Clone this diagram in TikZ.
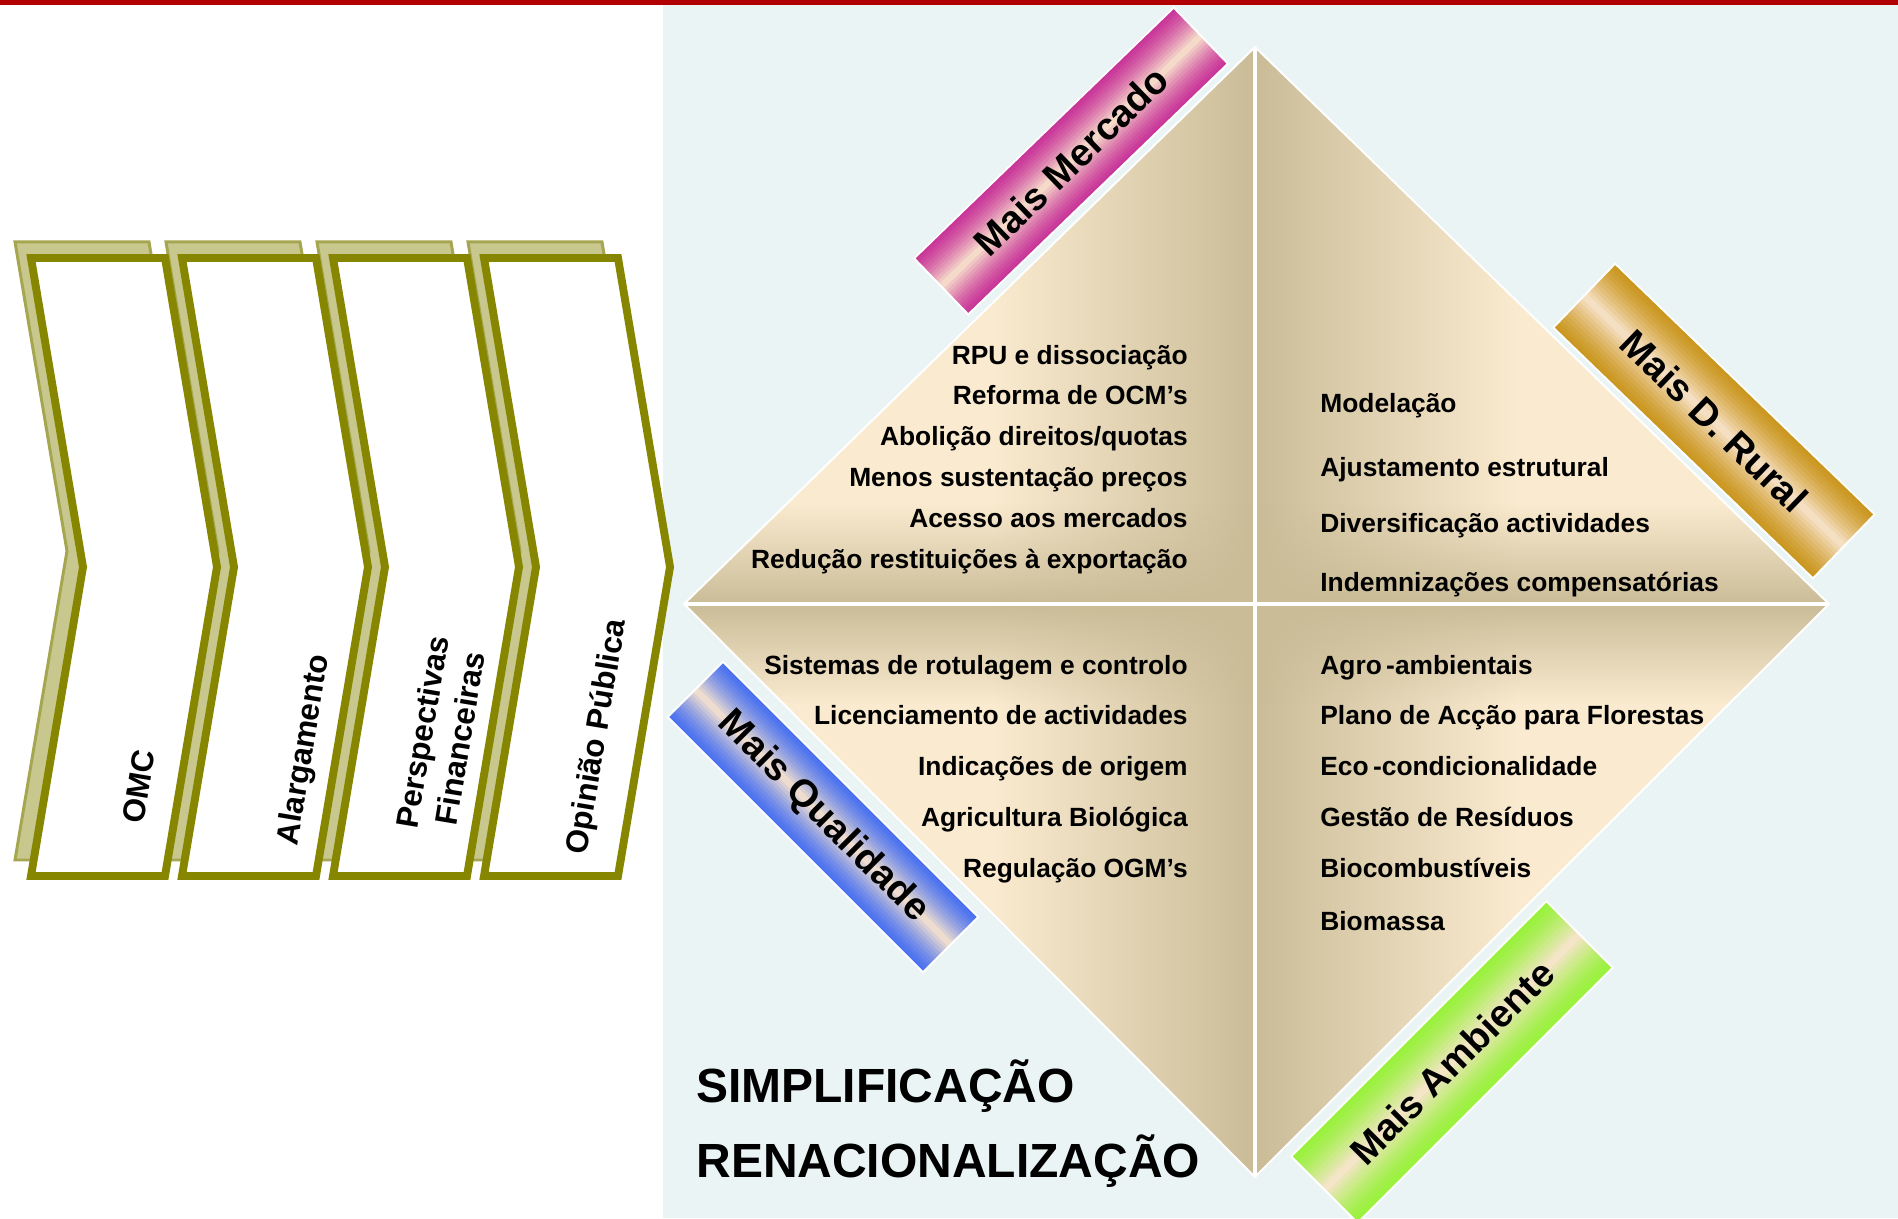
\documentclass[tikz,border=0pt]{standalone}
\usepackage{fontspec}
\setmainfont{Liberation Sans}
\usetikzlibrary{positioning, fadings}

\definecolor{redbar}{RGB}{178,0,0}
\definecolor{paneblue}{RGB}{235,244,245}
\definecolor{cream}{RGB}{250,235,208}
\definecolor{tan}{RGB}{203,188,152}
\definecolor{chevline}{RGB}{134,134,0}
\definecolor{shadowfill}{RGB}{200,200,142}
\definecolor{shadowline}{RGB}{166,166,80}
\definecolor{glow}{RGB}{248,228,205}
\definecolor{mercado}{RGB}{200,52,152}
\definecolor{rural}{RGB}{202,150,30}
\definecolor{qualidade}{RGB}{72,112,240}
\definecolor{ambiente}{RGB}{152,242,58}

\tikzfading[name=fadeup, top color=transparent!100, bottom color=transparent!0]
\tikzfading[name=fadedown, top color=transparent!0, bottom color=transparent!100]
\tikzfading[name=faderight, left color=transparent!100, right color=transparent!0]
\tikzfading[name=fadeleft, left color=transparent!0, right color=transparent!100]

% glowing stripe fill of a label bar: #1 colour, #2 bar height
\newcommand{\glowbar}[2]{%
  \foreach \i in {0,...,23}{
    \pgfmathsetmacro{\ya}{-#2/2+\i*#2/24}
    \pgfmathsetmacro{\yb}{-#2/2+(\i+1)*#2/24+0.6}
    \pgfmathsetmacro{\mix}{100*(1-abs(\i+0.5-12)/12)^1.4}
    \fill[glow!\mix!#1] (-180.5,\ya) rectangle (180.5,\yb);
  }}

\begin{document}
\begin{tikzpicture}[
        x=0.2mm, y=0.2mm,
        listtxt/.style={font=\fontsize{15}{18}\selectfont\bfseries, inner sep=0pt},
        bartxt/.style={font=\fontsize{21.8}{26}\selectfont\bfseries},
        labelbar/.style={draw=white, line width=1.1pt, minimum width=72.2mm,
                         minimum height=#1, inner sep=0pt, transform shape},
        chevtxt/.style={font=\fontsize{17.9}{21.8}\selectfont\bfseries, rotate=80.5,
                        align=center, inner sep=0pt},
        chevron/.style={draw=chevline, fill=white, line width=4.5pt},
        chevshadow/.style={draw=shadowline, fill=shadowfill, line width=1.7pt},
        bigtxt/.style={font=\fontsize{27.3}{32}\selectfont\bfseries, inner sep=0pt}]

        \useasboundingbox (0,0) rectangle (1898,1218);
        \fill[paneblue] (663,0) rectangle (1898,1213);
        \fill[redbar] (0,1213) rectangle (1898,1218);

        % chevrons
        \begin{scope}[shift={(-16,16)}]
        \draw[chevshadow] (31,960) -- (165,960) -- (217,651) -- (165,342) -- (31,342) -- (83,651) -- cycle;
        \draw[chevshadow] (182,960) -- (316,960) -- (368,651) -- (316,342) -- (182,342) -- (234,651) -- cycle;
        \draw[chevshadow] (333,960) -- (467,960) -- (519,651) -- (467,342) -- (333,342) -- (385,651) -- cycle;
        \draw[chevshadow] (484,960) -- (618,960) -- (670,651) -- (618,342) -- (484,342) -- (536,651) -- cycle;
        \end{scope}
        \draw[chevron] (31,960) -- (165,960) -- (217,651) -- (165,342) -- (31,342) -- (83,651) -- cycle;
        \draw[chevron] (182,960) -- (316,960) -- (368,651) -- (316,342) -- (182,342) -- (234,651) -- cycle;
        \draw[chevron] (333,960) -- (467,960) -- (519,651) -- (467,342) -- (333,342) -- (385,651) -- cycle;
        \draw[chevron] (484,960) -- (618,960) -- (670,651) -- (618,342) -- (484,342) -- (536,651) -- cycle;

        \node[chevtxt] (OMC) at (139,431) {OMC};
        \node[chevtxt] (Alarg) at (305,468) {Alargamento};
        \node[chevtxt] (Persp) at (441,483) {Perspectivas\\Financeiras};
        \node[chevtxt] (Opin) at (598,481) {Opinião Pública};

        % diamond
        \coordinate (T) at (1255,1171);
        \coordinate (L) at (684,614);
        \coordinate (R) at (1829,614);
        \coordinate (B) at (1255,41);
        \coordinate (C) at (1255,614);

        \fill[cream] (L) -- (T) -- (R) -- (B) -- cycle;
        \begin{scope}
            \clip (L) -- (T) -- (C) -- cycle;
            \fill[tan, path fading=faderight] (995,614) rectangle (1255,1171);
            \fill[tan, path fading=fadeup] (684,614) rectangle (1255,714);
        \end{scope}
        \begin{scope}
            \clip (R) -- (T) -- (C) -- cycle;
            \fill[tan, path fading=fadeleft] (1255,614) rectangle (1515,1171);
            \fill[tan, path fading=fadeup] (1255,614) rectangle (1829,714);
        \end{scope}
        \begin{scope}
            \clip (L) -- (B) -- (C) -- cycle;
            \fill[tan, path fading=faderight] (995,41) rectangle (1255,614);
            \fill[tan, path fading=fadedown] (684,514) rectangle (1255,614);
        \end{scope}
        \begin{scope}
            \clip (R) -- (B) -- (C) -- cycle;
            \fill[tan, path fading=fadeleft] (1255,41) rectangle (1515,614);
            \fill[tan, path fading=fadedown] (1255,514) rectangle (1829,614);
        \end{scope}
        \draw[white, line width=1.1pt] (L) -- (T) -- (R) -- (B) -- cycle;
        \draw[white, line width=2.3pt] (T) -- (B);
        \draw[white, line width=2.3pt] (L) -- (R);

        % label bars
        \begin{scope}[shift={(1071,1057)}, rotate=44]
            \glowbar{mercado}{78}
            \node[labelbar=15.6mm, bartxt] (Mercado) at (0,0) {Mais Mercado};
        \end{scope}
        \begin{scope}[shift={(1714,797)}, rotate=-44]
            \glowbar{rural}{89}
            \node[labelbar=17.8mm, bartxt] (Rural) at (0,0) {Mais D. Rural};
        \end{scope}
        \begin{scope}[shift={(823,401)}, rotate=-45]
            \glowbar{qualidade}{78}
            \node[labelbar=15.6mm, bartxt] (Qualidade) at (0,0) {Mais Qualidade};
        \end{scope}
        \begin{scope}[shift={(1452,156)}, rotate=45]
            \glowbar{ambiente}{94}
            \node[labelbar=18.8mm, bartxt] (Ambiente) at (0,0) {Mais Ambiente};
        \end{scope}

        % lists
        \node[listtxt, anchor=base east] (RPU) at (1188,853) {RPU e dissociação};
        \node[listtxt, anchor=base east] (OCM) at (1188,813) {Reforma de OCM’s};
        \node[listtxt, anchor=base east] (Abol) at (1188,772) {Abolição direitos/quotas};
        \node[listtxt, anchor=base east] (Menos) at (1188,731) {Menos sustentação preços};
        \node[listtxt, anchor=base east] (Acesso) at (1188,690) {Acesso aos mercados};
        \node[listtxt, anchor=base east] (Reduc) at (1188,649) {Redução restituições à exportação};

        \node[listtxt, anchor=base west] (Model) at (1320,805) {Modelação};
        \node[listtxt, anchor=base west] (Ajust) at (1320,741) {Ajustamento estrutural};
        \node[listtxt, anchor=base west] (Divers) at (1320,685) {Diversificação actividades};
        \node[listtxt, anchor=base west] (Indemn) at (1320,626) {Indemnizações compensatórias};

        \node[listtxt, anchor=base east] (Sistemas) at (1188,543) {Sistemas de rotulagem e controlo};
        \node[listtxt, anchor=base east] (Licenc) at (1188,493) {Licenciamento de actividades};
        \node[listtxt, anchor=base east] (Indic) at (1188,442) {Indicações de origem};
        \node[listtxt, anchor=base east] (Agric) at (1188,391) {Agricultura Biológica};
        \node[listtxt, anchor=base east] (Regul) at (1188,341) {Regulação OGM’s};

        \node[listtxt, anchor=base west] (Agro) at (1320,543) {Agro\,-ambientais};
        \node[listtxt, anchor=base west] (Plano) at (1320,493) {Plano de Acção para Florestas};
        \node[listtxt, anchor=base west] (Eco) at (1320,442) {Eco\,-condicionalidade};
        \node[listtxt, anchor=base west] (Gestao) at (1320,391) {Gestão de Resíduos};
        \node[listtxt, anchor=base west] (Biocomb) at (1320,341) {Biocombustíveis};
        \node[listtxt, anchor=base west] (Biomassa) at (1320,288) {Biomassa};

        \node[bigtxt, anchor=base west] (Simpl) at (696,116) {SIMPLIFICAÇÃO};
        \node[bigtxt, anchor=base west] (Renac) at (696,41) {RENACIONALIZAÇÃO};

    \end{tikzpicture}
\end{document}
